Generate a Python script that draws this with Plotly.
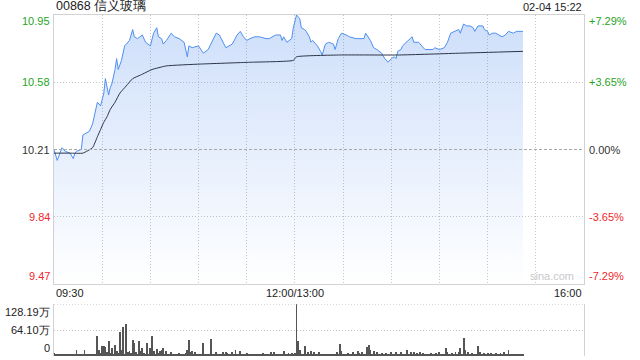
import plotly.graph_objects as go

# ---------------- data ----------------
title_text = "00868 信义玻璃"
stamp_text = "02-04 15:22"
prev_close = 10.21

# minutes since 09:30 (lunch break removed: 150 = 12:00/13:00)
price_minutes = [0, 2, 5, 7, 10, 12, 13, 14, 17, 18, 22, 23, 24, 27, 29, 31, 32, 34, 35, 36,
                 38, 39, 40, 42, 44, 47, 49, 50, 52, 55, 57, 60, 62, 64, 65, 67, 68, 70, 73, 75,
                 78, 81, 83, 84, 86, 90, 93, 96, 98, 101, 103, 105, 107, 111, 114, 116, 118, 120, 122, 125,
                 128, 132, 134, 138, 141, 142, 143, 145, 148, 149, 151, 153, 154, 156, 157, 159, 160, 161, 164, 166,
                 167, 169, 171, 174, 175, 177, 179, 182, 184, 188, 193, 194, 196, 197, 199, 201, 204, 206, 208, 210,
                 212, 213, 214, 216, 217, 221, 223, 224, 227, 229, 231, 234, 236, 237, 240, 243, 245, 247, 250, 252,
                 253, 255, 257, 259, 261, 262, 264, 267, 268, 270, 271, 273, 275, 277, 279, 281, 283, 286, 288, 292]
price_values = [10.21, 10.15, 10.22, 10.20, 10.19, 10.16, 10.19, 10.20, 10.21, 10.29, 10.31, 10.33, 10.35, 10.47, 10.45, 10.52, 10.60, 10.51, 10.55, 10.57,
                10.65, 10.71, 10.65, 10.70, 10.78, 10.81, 10.87, 10.83, 10.82, 10.84, 10.80, 10.78, 10.85, 10.88, 10.83, 10.82, 10.79, 10.81, 10.85, 10.83,
                10.82, 10.80, 10.72, 10.78, 10.77, 10.78, 10.74, 10.76, 10.80, 10.85, 10.84, 10.80, 10.77, 10.79, 10.84, 10.86, 10.83, 10.81, 10.82, 10.83,
                10.83, 10.82, 10.82, 10.84, 10.84, 10.81, 10.83, 10.80, 10.82, 10.88, 10.95, 10.93, 10.88, 10.87, 10.86, 10.83, 10.80, 10.81, 10.78, 10.75,
                10.73, 10.79, 10.80, 10.79, 10.76, 10.82, 10.85, 10.84, 10.83, 10.82, 10.82, 10.85, 10.82, 10.81, 10.77, 10.76, 10.74, 10.71, 10.69, 10.71,
                10.72, 10.71, 10.75, 10.76, 10.78, 10.81, 10.83, 10.80, 10.80, 10.78, 10.76, 10.76, 10.76, 10.77, 10.76, 10.77, 10.80, 10.85, 10.86, 10.87,
                10.85, 10.90, 10.89, 10.89, 10.88, 10.86, 10.89, 10.89, 10.87, 10.86, 10.84, 10.85, 10.85, 10.84, 10.83, 10.84, 10.86, 10.85, 10.86, 10.86]

avg_minutes = [0, 10, 18, 24, 27, 29, 31, 33, 35, 38, 41, 45, 49, 54, 61, 70, 91, 122, 149, 151,
               178, 215, 253, 292]
avg_values = [10.19, 10.19, 10.19, 10.22, 10.28, 10.32, 10.36, 10.39, 10.43, 10.47, 10.52, 10.56, 10.60, 10.62, 10.65, 10.67, 10.68, 10.69, 10.70, 10.72,
              10.73, 10.73, 10.74, 10.75]

# volume per minute (unit: 万 shares), minute 0 .. 292
volume_values = [
    6, 3, 2, 4, 3, 2, 3, 4, 2, 3,
    2, 3, 2, 4, 14, 3, 2, 5, 3, 14,
    3, 2, 4, 3, 2, 5, 3, 49, 14, 6,
    24, 24, 22, 8, 37, 6, 18, 5, 27, 12,
    6, 59, 15, 71, 5, 79, 8, 12, 6, 39,
    31, 8, 5, 37, 12, 18, 6, 5, 32, 4,
    18, 49, 12, 5, 17, 6, 12, 15, 18, 4,
    12, 3, 5, 8, 4, 3, 5, 2, 6, 3,
    2, 4, 6, 15, 39, 10, 12, 4, 8, 3,
    4, 2, 5, 32, 3, 4, 2, 5, 42, 3,
    4, 10, 3, 5, 2, 10, 4, 10, 7, 3,
    5, 8, 3, 15, 4, 2, 12, 3, 4, 2,
    6, 2, 3, 2, 4, 2, 3, 2, 3, 2,
    6, 3, 2, 4, 2, 10, 3, 8, 2, 3,
    2, 3, 2, 12, 3, 2, 6, 2, 6, 3,
    6, 128.19, 37, 14, 5, 4, 24, 3, 10, 4,
    12, 3, 10, 4, 3, 8, 2, 4, 3, 2,
    5, 2, 3, 2, 4, 3, 10, 4, 29, 12,
    3, 2, 4, 6, 2, 3, 8, 4, 3, 12,
    6, 3, 8, 2, 4, 21, 26, 14, 3, 12,
    4, 8, 2, 3, 6, 2, 3, 6, 4, 2,
    10, 3, 4, 8, 2, 3, 10, 4, 3, 2,
    14, 3, 8, 2, 8, 3, 6, 2, 10, 3,
    6, 2, 3, 4, 2, 6, 3, 2, 6, 3,
    8, 2, 4, 3, 18, 10, 3, 2, 6, 3,
    8, 2, 10, 18, 4, 43, 14, 3, 8, 2,
    6, 3, 2, 4, 24, 8, 3, 2, 6, 3,
    6, 2, 6, 3, 2, 6, 3, 2, 6, 3,
    8, 2, 4, 14, 3, 2, 4, 2, 3, 3,
    2, 3, 2]
volume_minutes = list(range(len(volume_values)))

price_ticks = [9.47, 9.84, 10.21, 10.58, 10.95]
price_tick_labels = ["9.47", "9.84", "10.21", "10.58", "10.95"]
pct_tick_labels = ["-7.29%", "-3.65%", "0.00%", "+3.65%", "+7.29%"]
tick_colors = ["#f0282d", "#f0282d", "#333333", "#1fa51f", "#1fa51f"]
time_tick_minutes = [0, 150, 330]
time_tick_labels = ["09:30", "12:00/13:00", "16:00"]
vol_ticks = [0, 64.10, 128.19]
vol_tick_labels = ["0", "64.10万", "128.19万"]

# ---------------- figure ----------------
FONT = "Arial, 'Liberation Sans', sans-serif"
GRID = "#c4c4c4"
BORDER = "#d2d2d2"
DOT = "1px,2px"

fig = go.Figure()

fig.add_trace(go.Scatter(
    x=price_minutes, y=price_values, mode="lines",
    line=dict(color="#4f8ff0", width=1),
    fill="tozeroy",
    fillgradient=dict(type="vertical", start=9.47, stop=10.95,
                      colorscale=[[0, "rgba(100,153,240,0.0)"], [1, "rgba(100,153,240,0.32)"]]),
    hoverinfo="skip", xaxis="x", yaxis="y"))

fig.add_trace(go.Scatter(
    x=avg_minutes, y=avg_values, mode="lines",
    line=dict(color="#2c3548", width=1, shape="spline", smoothing=0.4),
    hoverinfo="skip", xaxis="x", yaxis="y"))

fig.add_trace(go.Bar(
    x=volume_minutes, y=volume_values, width=0.6,
    marker=dict(color="#555555", line=dict(width=0)),
    hoverinfo="skip", xaxis="x2", yaxis="y2"))

main_bottom = (356 - 284) / 341.0
vol_top = (356 - 304.3) / 341.0

fig.update_layout(
    width=640, height=360,
    margin=dict(l=54, r=56, t=15, b=4),
    paper_bgcolor="white", plot_bgcolor="white",
    showlegend=False, bargap=0,
    font=dict(family=FONT, size=11, color="#333333"),
    xaxis=dict(domain=[0, 1], range=[0, 330], anchor="y",
               tickvals=list(range(0, 331, 30)), showticklabels=False, ticks="",
               showgrid=True, gridcolor=GRID, griddash=DOT, gridwidth=1,
               showline=True, mirror=True, linecolor=BORDER, linewidth=1, zeroline=False),
    yaxis=dict(domain=[main_bottom, 1], range=[9.47, 10.95], anchor="x",
               tickvals=[9.84, 10.58], showticklabels=False, ticks="",
               showgrid=True, gridcolor=GRID, griddash=DOT, gridwidth=1,
               showline=True, mirror=True, linecolor=BORDER, linewidth=1, zeroline=False),
    xaxis2=dict(domain=[0, 1], range=[0, 330], anchor="y2",
                showticklabels=False, ticks="", showgrid=False, showline=False, zeroline=False),
    yaxis2=dict(domain=[0, vol_top], range=[0, 128.19], anchor="x2",
                tickvals=[64.10], showticklabels=False, ticks="",
                showgrid=True, gridcolor=GRID, griddash=DOT, gridwidth=1,
                showline=True, mirror=True, linecolor=BORDER, linewidth=1, zeroline=False),
)

shapes = [
    dict(type="line", xref="x domain", yref="y", x0=0, x1=1, y0=prev_close, y1=prev_close,
         line=dict(color="#a8a8a8", width=1, dash="3px,2px")),
    dict(type="line", xref="x2 domain", yref="y2", x0=0, x1=1, y0=vol_ticks[2], y1=vol_ticks[2],
         line=dict(color=GRID, width=1, dash=DOT)),
]
fig.update_layout(shapes=shapes)

ann = []
ann.append(dict(text=title_text, xref="paper", yref="paper", x=0, y=1, xanchor="left", yanchor="bottom",
                yshift=0, showarrow=False, font=dict(size=12.5, color="#222222", family=FONT)))
ann.append(dict(text=stamp_text, xref="paper", yref="paper", x=1, y=1, xanchor="right", yanchor="bottom",
                showarrow=False, font=dict(size=11, color="#222222", family=FONT)))

for i, (v, lab, pl, col) in enumerate(zip(price_ticks, price_tick_labels, pct_tick_labels, tick_colors)):
    ya = "top" if i == len(price_ticks) - 1 else ("bottom" if i == 0 else "middle")
    ann.append(dict(text=lab, xref="paper", yref="y", x=0, y=v, xanchor="right", yanchor=ya,
                    xshift=-2, yshift=(2 if i == len(price_ticks) - 1 else 0),
                    showarrow=False, font=dict(size=11, color=col, family=FONT)))
    ann.append(dict(text=pl, xref="paper", yref="y", x=1, y=v, xanchor="left", yanchor=ya,
                    xshift=3, yshift=(2 if i == len(price_ticks) - 1 else 0),
                    showarrow=False, font=dict(size=11, color=col, family=FONT)))

xan = ["left", "center", "right"]
for m, lab, xa in zip(time_tick_minutes, time_tick_labels, xan):
    ann.append(dict(text=lab, xref="x", yref="paper", x=m, y=main_bottom, xanchor=xa, yanchor="top",
                    yshift=-1, showarrow=False, font=dict(size=11, color="#222222", family=FONT)))

for i, (v, lab) in enumerate(zip(vol_ticks, vol_tick_labels)):
    ya = "bottom" if i == 0 else ("top" if i == len(vol_ticks) - 1 else "middle")
    ann.append(dict(text=lab, xref="paper", yref="y2", x=0, y=v, xanchor="right", yanchor=ya,
                    xshift=-2, showarrow=False, font=dict(size=11, color="#222222", family=FONT)))

ann.append(dict(text="sina.com", xref="paper", yref="y", x=1, y=9.47, xanchor="right", yanchor="bottom",
                xshift=-8, yshift=0, showarrow=False, font=dict(size=11, color="#c8c8c8", family=FONT)))

fig.update_layout(annotations=ann)

fig.write_html("out.html")
